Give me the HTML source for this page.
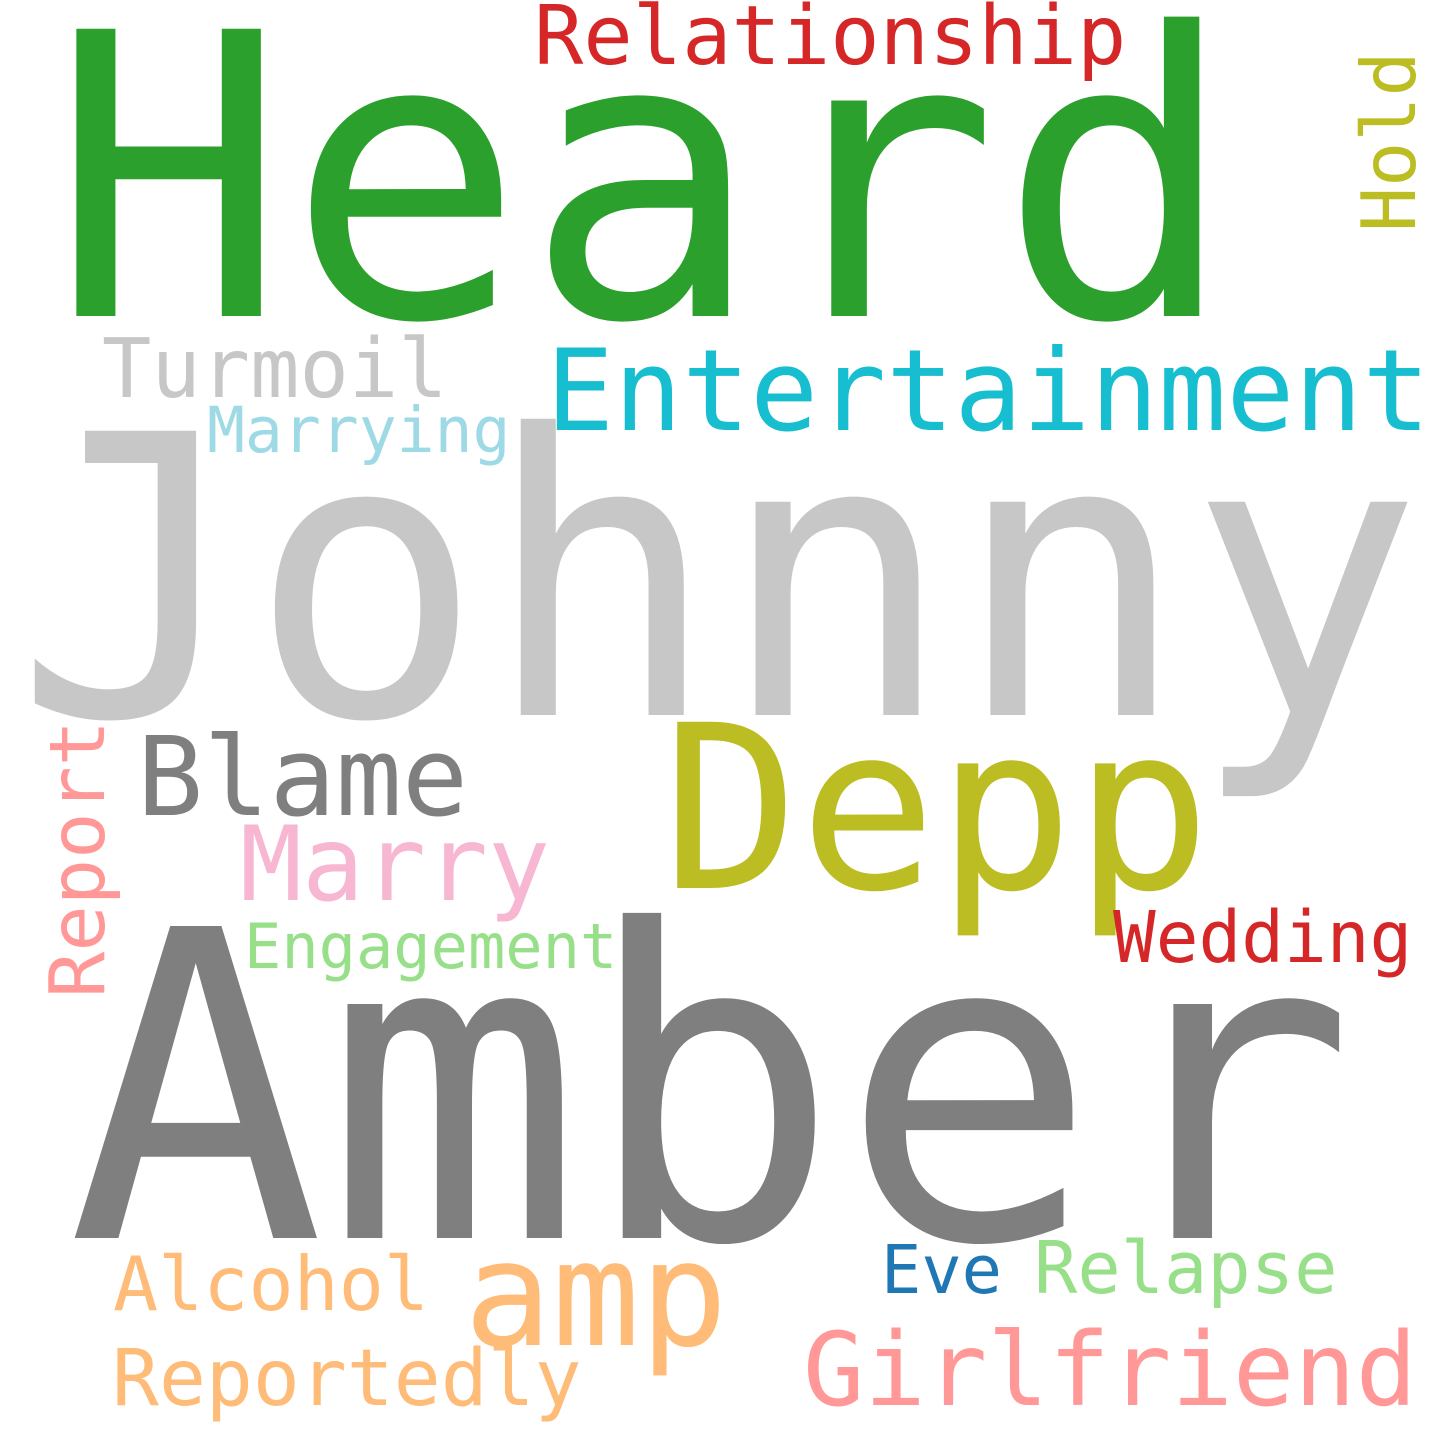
<!DOCTYPE html>
<html>
<head>
<meta charset="utf-8">
<style>
html,body{margin:0;padding:0;background:#fff;}
svg{display:block;}
text{font-family:"DejaVu Sans Mono","Liberation Mono",monospace;}
</style>
</head>
<body>
<svg id="cloud" width="1440" height="1440" viewBox="0 0 1440 1440" xmlns="http://www.w3.org/2000/svg">
<rect width="1440" height="1440" fill="#ffffff"/>
</svg>
<script>
const words = ["Heard","Johnny","Amber","Depp","Entertainment","Relationship","Hold","Turmoil","Marrying","Blame","Marry","Report","Engagement","Wedding","Alcohol","amp","Reportedly","Eve","Relapse","Girlfriend"];
const weights = [394,390,428,228,113,82,75,82,63,110,103,77,62,71,75,146,78,67,72,102];
const colors = ["#2ca02c","#c7c7c7","#7f7f7f","#bcbd22","#17becf","#d62728","#bcbd22","#c7c7c7","#9edae5","#7f7f7f","#f7b6d2","#ff9896","#98df8a","#d62728","#ffbb78","#ffbb78","#ffbb78","#1f77b4","#98df8a","#ff9896"];
const layoutX = [50,14,67,662,546,534,1415,102,207,137,240,104,244,1113,113,464,112,881,1034,803];
const layoutY = [316,715,1238,888,430,64,232,397,452,815,900,998,968,962,1310,1345,1405,1293,1293,1405];
const vertical = [0,0,0,0,0,0,1,0,0,0,0,1,0,0,0,0,0,0,0,0];

const svg = document.getElementById('cloud');
const NS = 'http://www.w3.org/2000/svg';
words.forEach((w, i) => {
  const t = document.createElementNS(NS, 'text');
  t.textContent = w;
  t.setAttribute('x', layoutX[i]);
  t.setAttribute('y', layoutY[i]);
  t.setAttribute('font-size', weights[i]);
  t.setAttribute('fill', colors[i]);
  if (vertical[i]) {
    t.setAttribute('transform', 'rotate(-90 ' + layoutX[i] + ' ' + layoutY[i] + ')');
  }
  
  
  svg.appendChild(t);
});
</script>
</body>
</html>
